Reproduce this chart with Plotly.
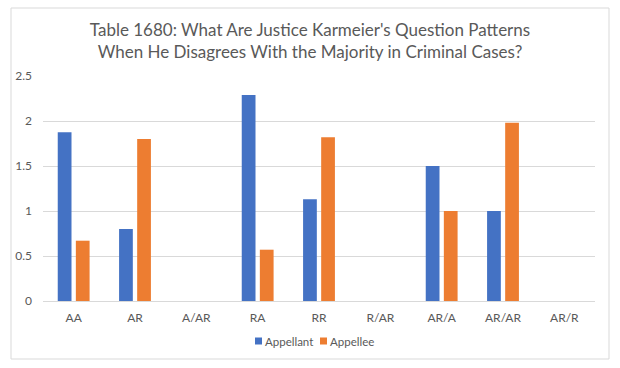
import plotly.graph_objects as go

categories = ["AA", "AR", "A/AR", "RA", "RR", "R/AR", "AR/A", "AR/AR", "AR/R"]
appellant = [1.875, 0.8, 0, 2.29, 1.13, 0, 1.5, 1.0, 0]
appellee = [0.67, 1.8, 0, 0.57, 1.82, 0, 1.0, 1.98, 0]
series_names = ["Appellant", "Appellee"]
series_colors = ["#4472C4", "#ED7D31"]
y_ticks = [0, 0.5, 1, 1.5, 2, 2.5]
y_tick_labels = ["0", "0.5", "1", "1.5", "2", "2.5"]

font_family = "Lato, Open Sans, sans-serif"
gray = "#595959"

W, H = 620, 368
L, R, T, B = 43, 25, 76, 67
pw, ph = W - L - R, H - T - B


def px_x(px):
    return (px - L) / pw


def px_y(py):
    return (T + ph - py) / ph


fig = go.Figure()
for name, vals, col in zip(series_names, [appellant, appellee], series_colors):
    fig.add_trace(go.Bar(name=name, x=categories, y=vals, marker_color=col,
                         marker_line_width=0, showlegend=False))

# legend: small squares + text
legend_x = [255, 320]
shapes = [dict(type="rect", xref="paper", yref="paper",
               x0=px_x(11), x1=px_x(609), y0=px_y(359), y1=px_y(8),
               line=dict(color="#d9d9d9", width=1), fillcolor="rgba(0,0,0,0)",
               layer="below")]
annotations = []
for name, col, lx in zip(series_names, series_colors, legend_x):
    shapes.append(dict(type="rect", xref="paper", yref="paper",
                       x0=px_x(lx), x1=px_x(lx + 7), y0=px_y(344.5), y1=px_y(337.5),
                       line=dict(width=0), fillcolor=col))
    annotations.append(dict(text=name, xref="paper", yref="paper",
                            x=px_x(lx + 8), y=px_y(341), xanchor="left", yanchor="middle",
                            showarrow=False, font=dict(size=11.5, color=gray)))

fig.update_layout(
    width=W, height=H,
    margin=dict(l=L, r=R, t=T, b=B, autoexpand=False),
    paper_bgcolor="white", plot_bgcolor="white",
    barmode="group", bargap=0.41, bargroupgap=0.24,
    showlegend=False,
    title=dict(
        text="Table 1680: What Are Justice Karmeier's Question Patterns<br>When He Disagrees With the Majority in Criminal Cases?",
        x=0.5, xanchor="center", xref="container",
        y=1 - 36 / H, yanchor="top", yref="container",
        font=dict(family=font_family, size=17, color=gray),
    ),
    font=dict(family=font_family, size=12, color=gray),
    xaxis=dict(showgrid=False, showline=True, linecolor="#d9d9d9", ticks="",
               ticklabelstandoff=6, tickfont=dict(size=12, color=gray)),
    yaxis=dict(range=[0, 2.5], tickvals=y_ticks, ticktext=y_tick_labels,
               showgrid=True, gridcolor="#d9d9d9", zeroline=False,
               showline=False, ticks="", ticklabelstandoff=10,
               tickfont=dict(size=12, color=gray)),
    shapes=shapes,
    annotations=annotations,
)

fig.write_html("out.html", config={"displayModeBar": False},
               post_script="document.body.style.margin='0';")
